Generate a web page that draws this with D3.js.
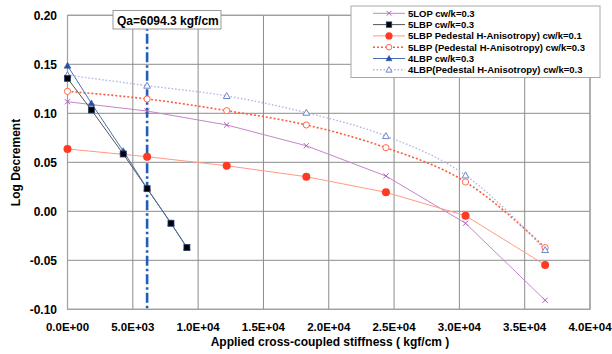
<!DOCTYPE html>
<html>
<head>
<meta charset="utf-8">
<script src="https://cdn.jsdelivr.net/npm/d3@7"></script>
<style>
html,body{margin:0;padding:0;background:#fff;}
svg text{font-family:"Liberation Sans",Arial,sans-serif;font-weight:bold;}
</style>
</head>
<body>
<svg id="chart" width="612" height="354"></svg>
<script>
const Qa = 6094.3;
const xA = [0, 6094.3, 12188.6, 18282.9, 24377.2, 30471.5, 36565.8];
const xB = [0, 1828.3, 4266.0, 6094.3, 7922.6, 9141.5];
const s5LOP = [0.1118, 0.1023, 0.0881, 0.0669, 0.0360, -0.0122, -0.0908];
const s5LBP = [0.1357, 0.1034, 0.0585, 0.0231, -0.0122, -0.0370];
const s5LBPped01 = [0.0636, 0.0557, 0.0465, 0.0353, 0.0194, -0.0045, -0.0548];
const s5LBPped03 = [0.1224, 0.1146, 0.1027, 0.0881, 0.0649, 0.0299, -0.0371];
const s4LBP = [0.1486, 0.1102, 0.0615, 0.0235, -0.0122, -0.0370];
const s4LBPped03 = [0.1390, 0.1282, 0.1177, 0.1006, 0.0768, 0.0367, -0.0395];
const xTicks = [0, 5000, 10000, 15000, 20000, 25000, 30000, 35000, 40000];
const xTickLabels = ["0.0E+00","5.0E+03","1.0E+04","1.5E+04","2.0E+04","2.5E+04","3.0E+04","3.5E+04","4.0E+04"];
const yTicks = [-0.10, -0.05, 0.00, 0.05, 0.10, 0.15, 0.20];
const yTickLabels = ["-0.10","-0.05","0.00","0.05","0.10","0.15","0.20"];
const seriesNames = ["5LOP cw/k=0.3","5LBP cw/k=0.3","5LBP Pedestal H-Anisotropy) cw/k=0.1","5LBP (Pedestal H-Anisotropy) cw/k=0.3","4LBP cw/k=0.3","4LBP(Pedestal H-Anisotropy) cw/k=0.3"];

const series = [
  {name: seriesNames[0], xs: xA, ys: s5LOP, line: "#c586c9", dash: null, lw: 1, marker: "x", mc: "#b060b8", fill: "none"},
  {name: seriesNames[1], xs: xB, ys: s5LBP, line: "#555", dash: null, lw: 1, marker: "square", mc: "#000", fill: "#000"},
  {name: seriesNames[2], xs: xA, ys: s5LBPped01, line: "#ff9a84", dash: null, lw: 1, marker: "circle", mc: "#ff3a22", fill: "#ff3a22"},
  {name: seriesNames[3], xs: xA, ys: s5LBPped03, line: "#ff5a3c", dash: "2,2", lw: 1.6, marker: "ocircle", mc: "#ff6a50", fill: "#fff"},
  {name: seriesNames[4], xs: xB, ys: s4LBP, line: "#4a6fb5", dash: null, lw: 1, marker: "triangle", mc: "#2a4fa8", fill: "#2a4fa8"},
  {name: seriesNames[5], xs: xA, ys: s4LBPped03, line: "#aab8e6", dash: "1.5,2", lw: 1.4, marker: "otriangle", mc: "#6f86cc", fill: "#fff"}
];

const svg = d3.select("#chart");
const L = 67.5, R = 590, T = 15.3, B = 309.3;
const x = d3.scaleLinear().domain([0, 40000]).range([L, R]);
const y = d3.scaleLinear().domain([-0.10, 0.20]).range([B, T]);

// gridlines
const g = svg.append("g");
g.selectAll("line.vx").data(xTicks).enter().append("line")
  .attr("x1", d => x(d)).attr("x2", d => x(d)).attr("y1", T).attr("y2", B)
  .attr("stroke", "#8c8c8c").attr("stroke-width", 1);
g.selectAll("line.hy").data(yTicks).enter().append("line")
  .attr("x1", L).attr("x2", R).attr("y1", d => y(d)).attr("y2", d => y(d))
  .attr("stroke", "#8c8c8c").attr("stroke-width", 1);
svg.append("rect").attr("x", L).attr("y", T).attr("width", R - L).attr("height", B - T)
  .attr("fill", "none").attr("stroke", "#a0a0a0").attr("stroke-width", 1.2);

// axes labels
svg.selectAll("text.yt").data(yTicks).enter().append("text")
  .attr("x", 57).attr("y", d => y(d) + 4.5).attr("text-anchor", "end")
  .attr("font-size", 12).text((d, i) => yTickLabels[i]);
svg.selectAll("text.xt").data(xTicks).enter().append("text")
  .attr("x", d => x(d)).attr("y", 331).attr("text-anchor", "middle")
  .attr("font-size", 11.5).text((d, i) => xTickLabels[i]);
svg.append("text").attr("x", 330).attr("y", 345.5).attr("text-anchor", "middle")
  .attr("font-size", 12).text("Applied cross-coupled stiffness ( kgf/cm )");
svg.append("text").attr("transform", "translate(19.5,162.5) rotate(-90)")
  .attr("text-anchor", "middle").attr("font-size", 12).text("Log Decrement");

// Qa line
svg.append("line").attr("x1", x(Qa)).attr("x2", x(Qa)).attr("y1", T).attr("y2", B)
  .attr("stroke", "#1f5fb8").attr("stroke-width", 2.6).attr("stroke-dasharray", "10,3,2.5,3");

// lines
const lineGen = d3.line().x(d => x(d[0])).y(d => y(d[1]));
const lineGenC = d3.line().x(d => x(d[0])).y(d => y(d[1])).curve(d3.curveMonotoneX);
series.forEach(s => {
  const pts = s.xs.map((v, i) => [v, s.ys[i]]);
  svg.append("path").attr("d", (s.dash ? lineGenC : lineGen)(pts)).attr("fill", "none")
    .attr("stroke", s.line).attr("stroke-width", s.lw)
    .attr("stroke-dasharray", s.dash);
});

function drawMarker(sel, s, cx, cy, scale) {
  const k = scale || 1;
  if (s.marker === "x") {
    const r = 2.6 * k;
    sel.append("path").attr("d", `M${cx-r},${cy-r}L${cx+r},${cy+r}M${cx-r},${cy+r}L${cx+r},${cy-r}`)
      .attr("stroke", s.mc).attr("stroke-width", 1);
  } else if (s.marker === "square") {
    const r = 3 * k;
    sel.append("rect").attr("x", cx - r).attr("y", cy - r).attr("width", 2 * r).attr("height", 2 * r)
      .attr("fill", s.fill).attr("stroke", "#2a3f70").attr("stroke-width", 0.8);
  } else if (s.marker === "circle") {
    sel.append("circle").attr("cx", cx).attr("cy", cy).attr("r", 4 * k).attr("fill", s.fill);
  } else if (s.marker === "ocircle") {
    sel.append("circle").attr("cx", cx).attr("cy", cy).attr("r", 3.1 * k).attr("fill", s.fill)
      .attr("stroke", s.mc).attr("stroke-width", 1);
  } else if (s.marker === "triangle" || s.marker === "otriangle") {
    const r = 3.4 * k;
    sel.append("path").attr("d", `M${cx},${cy-r}L${cx+r},${cy+r*0.75}L${cx-r},${cy+r*0.75}Z`)
      .attr("fill", s.fill).attr("stroke", s.mc).attr("stroke-width", s.marker === "otriangle" ? 1 : 0.5);
  }
}

// markers; black squares on top of blue triangles
const order = [0, 2, 3, 5, 4, 1];
order.forEach(idx => {
  const s = series[idx];
  const mg = svg.append("g");
  s.xs.forEach((v, i) => drawMarker(mg, s, x(v), y(s.ys[i])));
});

// Qa label
const qg = svg.append("g");
qg.append("rect").attr("x", 113).attr("y", 10.5).attr("width", 108).attr("height", 18.5)
  .attr("fill", "#fff").attr("stroke", "#999").attr("stroke-width", 1);
qg.append("text").attr("x", 117).attr("y", 24.5).attr("font-size", 12).text("Qa=" + Qa + " kgf/cm");

// legend
const lg = svg.append("g");
lg.append("rect").attr("x", 351).attr("y", 6).attr("width", 249).attr("height", 71.5)
  .attr("fill", "#fff").attr("stroke", "#a8a8a8").attr("stroke-width", 1);
series.forEach((s, i) => {
  const yy = 13.3 + i * 11.3;
  lg.append("line").attr("x1", 373).attr("x2", 405).attr("y1", yy).attr("y2", yy)
    .attr("stroke", s.line).attr("stroke-width", s.lw).attr("stroke-dasharray", s.dash);
  drawMarker(lg, s, 389, yy, 0.9);
  lg.append("text").attr("x", 408).attr("y", yy + 3.4).attr("font-size", 9.5).text(s.name);
});
</script>
</body>
</html>
